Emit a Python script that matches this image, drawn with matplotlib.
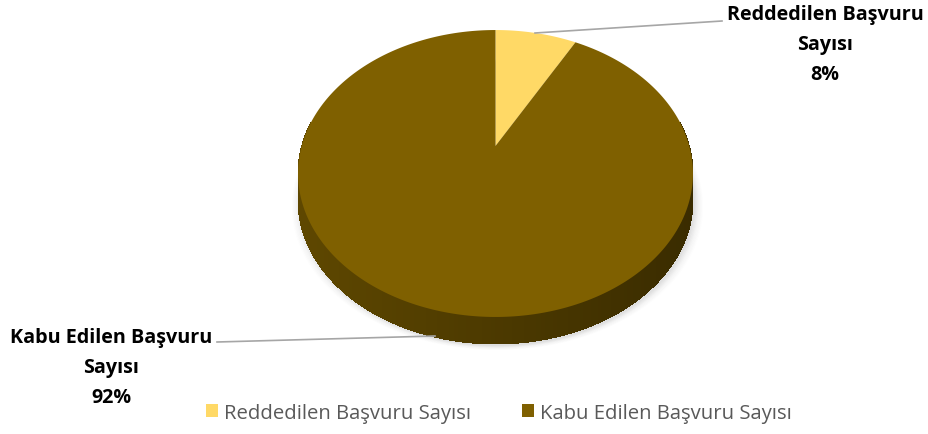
import numpy as np
import matplotlib
matplotlib.use("Agg")
import matplotlib.pyplot as plt
from matplotlib.patches import Patch
from matplotlib.colors import to_rgb

categories = ["Reddedilen Başvuru Sayısı", "Kabu Edilen Başvuru Sayısı"]
shares = [8, 92]
label_lines = ["Reddedilen Başvuru\nSayısı", "Kabu Edilen Başvuru\nSayısı"]
top_colors = ["#FFD966", "#7F6000"]

W, H = 929, 435
fig = plt.figure(figsize=(W / 100, H / 100), dpi=100)
plt.rcParams["font.family"] = ["Open Sans", "DejaVu Sans"]

# one axes over the whole figure, in pixel units
ax = fig.add_axes([0, 0, 1, 1])
ax.set_xlim(0, W)
ax.set_ylim(H, 0)
ax.axis("off")

# tilted disc: unit circle seen in perspective
cx, cy = 495.5, 147.0     # screen position of the disc centre
A, B, k = 193.8, 138.2, 0.1917
depth = 27


def project(theta_deg):
    t = np.radians(theta_deg)
    u, v = np.cos(t), np.sin(t)
    den = 1 + k * v
    return cx + A * u / den, cy - B * v / den


# soft grey shadow under the disc
for i, a in enumerate(np.linspace(0.05, 0.008, 8)):
    x, y = project(np.linspace(0, 360, 361))
    sx = cx + (x - cx) * (1 + 0.006 * i) + 2
    sy = y + depth + 2 + 0.6 * i
    ax.fill(sx, sy, color="#7a7a7a", alpha=a, lw=0, zorder=0)

# slice angles, clockwise from 12 o'clock
fr = np.array(shares) / np.sum(shares)
ends = 90 - 360 * np.cumsum(fr)
starts = np.concatenate([[90], ends[:-1]])


def slice_of(theta):
    a = (90 - theta) % 360
    return int(np.searchsorted(np.cumsum(fr) * 360, a, side="right"))


# front wall, shaded darker from left to right
step = 1.0
for t0 in np.arange(170, 370, step):
    mid = t0 + step / 2
    base = np.array(to_rgb(top_colors[min(slice_of(mid), len(shares) - 1)]))
    xm, _ = project(mid)
    f = 0.74 - 0.28 * (xm - (cx - A)) / (2 * A)
    ts = np.linspace(t0, t0 + step + 0.4, 4)
    x, y = project(ts)
    ax.fill(np.concatenate([x, x[::-1]]), np.concatenate([y, y[::-1] + depth]),
            color=np.clip(base * f, 0, 1), lw=0, zorder=1, antialiased=False)

# top face slices
for s, e, col in zip(starts, ends, top_colors):
    ts = np.linspace(s, e, 400)
    x, y = project(ts)
    ax.fill(np.concatenate([[cx], x]), np.concatenate([[cy], y]),
            color=col, lw=0, zorder=2)

# data labels with leader lines
lbl_kw = dict(fontsize=14.2, fontweight="bold", color="black", ha="center",
              va="center", linespacing=1.65)
ax.text(825, 45, f"{label_lines[0]}\n{shares[0]}%", **lbl_kw)
ax.text(111, 368, f"{label_lines[1]}\n{shares[1]}%", **lbl_kw)
ax.plot([535, 722], [34, 22], color="#A6A6A6", lw=1.2, zorder=3)
ax.plot([217, 435], [343, 337], color="#A6A6A6", lw=1.2, zorder=3)

handles = [Patch(facecolor=c, edgecolor="none") for c in top_colors]
ax.legend(handles, categories, loc="center", bbox_to_anchor=(499 / W, 1 - 414 / H),
          ncol=2, frameon=False, fontsize=14.6, labelcolor="#595959",
          handlelength=0.6, handleheight=0.6, handletextpad=0.3, columnspacing=2.5,
          borderaxespad=0)

fig.savefig("out.png", dpi=100, facecolor="white")
